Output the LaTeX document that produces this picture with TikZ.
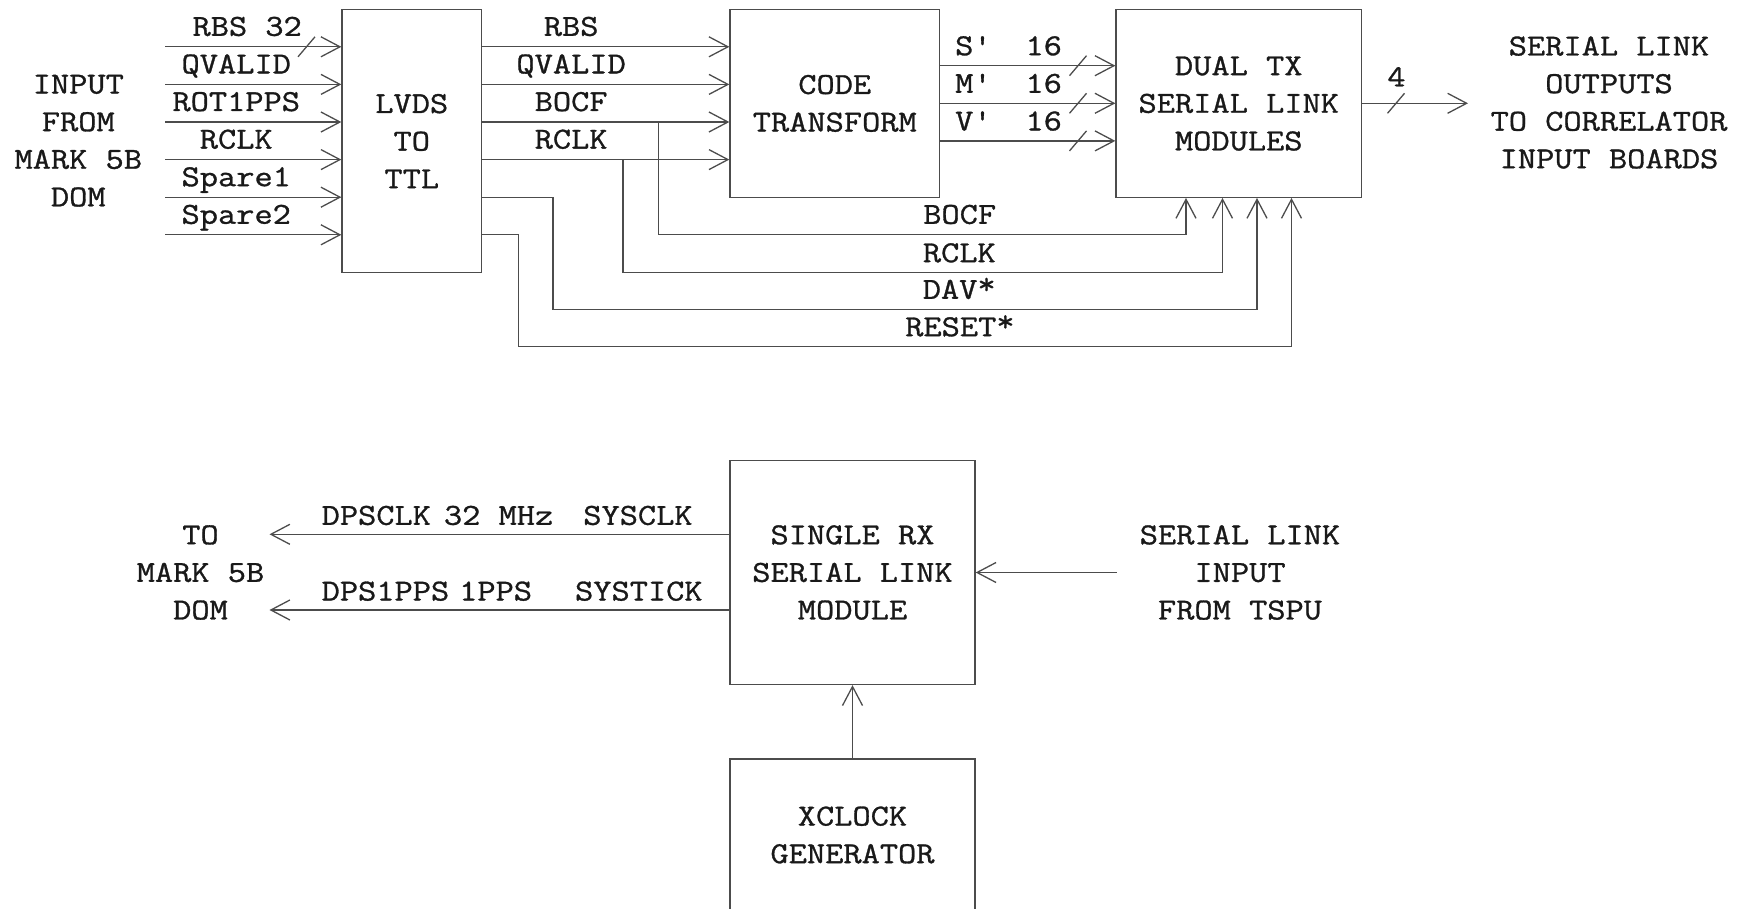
\documentclass[tikz,border=0pt]{standalone}
\usepackage{fontspec}
\setmonofont{Latin Modern Mono}[FakeStretch=1.16, FakeBold=1]
\usetikzlibrary{arrows.meta}
\tikzset{
    sig/.style={draw=black!70, line width=1.3pt},
    arr/.style={sig, -{Straight Barb[length=19pt, width=20pt]}},
    box/.style={draw=black!70, line width=1.3pt, inner sep=0pt, align=center},
    txt/.style={align=center, inner sep=0pt},
    lbl/.style={inner sep=0pt, anchor=base, yshift=#1},
    lbl/.default=11pt
}
\newcommand\busmark[1]{\draw[sig] (#1) ++(-8.5,10) -- ++(17,-20);}
\newcommand\hiast{\raisebox{5pt}{*}}
\begin{document}
\begin{tikzpicture}[x=1pt, y=-1pt, font=\ttfamily\fontsize{30.5}{37.6}\selectfont, text=black!90]
    \clip (0,0) rectangle (1747,909);

    % transmit side
    \node [box, minimum width=139.5pt, minimum height=263.2pt] (lvds) at (411.75,141.1) {LVDS\\TO\\TTL};
    \node [box, minimum width=209.5pt, minimum height=187.8pt] (code) at (834.75,103.4) {CODE\\TRANSFORM};
    \node [box, minimum width=245.5pt, minimum height=187.8pt] (dualtx) at (1238.75,103.4) {DUAL TX\\SERIAL LINK\\MODULES};

    \node [txt] (mark5bin) at (78.3,140.8) {INPUT\\FROM\\MARK 5B\\DOM};
    \node [txt] (corr) at (1609,102.5) {SERIAL LINK\\OUTPUTS\\TO CORRELATOR\\INPUT BOARDS};

    \foreach \i in {1,...,6}
        \coordinate (r\i) at (165, 9.2+37.6*\i);

    \foreach \t/\p [count=\i] in {RBS 32/.466, QVALID/.404, ROT1PPS/.404, RCLK/.404, Spare1/.404, Spare2/.404}
        \draw [arr] (r\i) -- node [lbl, pos=\p] {\t} (r\i -| lvds.west);
    \busmark{306.5,46.8}

    \foreach \t [count=\i] in {RBS, QVALID, BOCF, RCLK}
        \draw [arr] (r\i -| lvds.east) -- node [lbl, pos=.36] {\t} (r\i -| code.west);

    \foreach \t [count=\i] in {S, M, V} {
        \coordinate (q\i) at (0, 28.1+37.6*\i);
        \draw [arr] (q\i -| code.east) -- node [lbl=10.5pt, anchor=base west, pos=.082] {\t\textquotesingle~~16} (q\i -| dualtx.west);
        \busmark{1078, 28.1+37.6*\i}
    }

    \foreach \sx/\hy/\ux/\t/\p [count=\i] in {658.5/234.3/1186/BOCF/.571, 623/272.7/1222.5/RCLK/.561, 553/309.3/1257/DAV\hiast/.577, 518.5/346.7/1291.5/RESET\hiast/.571} {
        \pgfmathtruncatemacro\j{\i+2}
        \coordinate (fb\i) at (\sx,\hy);
        \coordinate (up\i) at (\ux,\hy);
        \draw [arr] (r\j -| lvds.east) -| (fb\i) -- node [lbl=10.5pt, pos=\p] {\t} (up\i) -- (up\i |- dualtx.south);
    }

    \coordinate (outtip) at (1468,103.3);
    \draw [arr] (outtip -| dualtx.east) -- node [lbl=17pt, pos=.324] {4} (outtip);
    \busmark{1396,103.3}

    % receive side
    \node [box, minimum width=245pt, minimum height=224pt] (singlerx) at (852.5,572.5) {SINGLE RX\\SERIAL LINK\\MODULE};
    \node [box, minimum width=245pt, minimum height=152pt] (xclock) at (852.5,835) {XCLOCK\\GENERATOR};
    \node [txt] (mark5bout) at (200.5,572.5) {TO\\MARK 5B\\DOM};
    \node [txt] (tspu) at (1240,572.5) {SERIAL LINK\\INPUT\\FROM TSPU};

    \coordinate (tomk1) at (269.5,534.3);
    \coordinate (tomk2) at (269.5,610);
    \coordinate (tspuin) at (1116.5,572.5);

    \draw [arr] (tomk1 -| singlerx.west) -- node [lbl=9.5pt, anchor=base west, pos=.888] {DPSCLK\hspace{13pt}32 MHz\hspace{30pt}SYSCLK} (tomk1);
    \draw [arr] (tomk2 -| singlerx.west) -- node [lbl=9.5pt, anchor=base west, pos=.888] {DPS1PPS\hspace{10pt}1PPS\hspace{43pt}SYSTICK} (tomk2);
    \draw [arr] (tspuin) -- (tspuin -| singlerx.east);
    \draw [arr] (xclock) -- (singlerx);
\end{tikzpicture}
\end{document}
